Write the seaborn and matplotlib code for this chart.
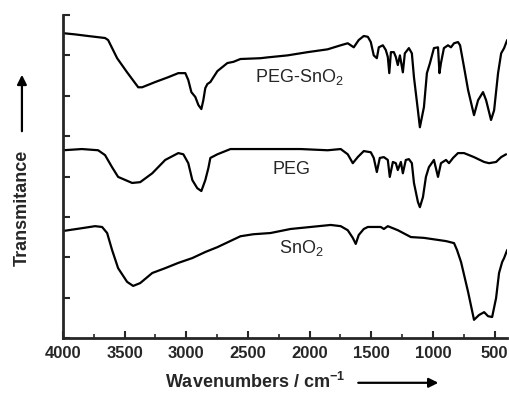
import numpy as np
import pandas as pd
import matplotlib.pyplot as plt
import seaborn as sns

sns.set_style("ticks")
plt.rcParams["font.family"] = ["Liberation Sans", "DejaVu Sans"]
plt.rcParams["mathtext.fontset"] = "custom"
plt.rcParams["mathtext.rm"] = "Liberation Sans"
plt.rcParams["mathtext.bf"] = "Liberation Sans:bold"

# PEG-SnO2 spectrum (wavenumber, transmittance a.u.)
peg_sno2_w = [4000, 3902, 3797, 3659, 3634, 3561, 3480, 3390, 3358, 3252, 3146, 3065, 3008, 2984,
              2959, 2927, 2902, 2878, 2862, 2846, 2829, 2805, 2748, 2667, 2618, 2561, 2398, 2342,
              2179, 2016, 1854, 1748, 1691, 1642, 1602, 1561, 1528, 1504, 1480, 1455, 1439, 1406,
              1382, 1366, 1354, 1341, 1317, 1301, 1285, 1268, 1244, 1228, 1195, 1171, 1154, 1122,
              1106, 1073, 1049, 1024, 992, 959, 947, 935, 911, 878, 854, 829, 797, 780, 748, 715,
              667, 634, 594, 569, 529, 504, 472, 447, 423, 398]
peg_sno2_t = [7.55, 7.52, 7.48, 7.43, 7.38, 6.93, 6.58, 6.21, 6.21, 6.34, 6.46, 6.56, 6.56, 6.39,
              6.09, 5.97, 5.77, 5.67, 5.89, 6.19, 6.29, 6.34, 6.61, 6.81, 6.84, 6.91, 6.93, 6.95,
              7.00, 7.08, 7.15, 7.25, 7.30, 7.20, 7.38, 7.48, 7.46, 7.33, 7.00, 6.93, 7.20, 7.25,
              7.13, 6.96, 6.56, 7.08, 7.08, 6.96, 6.76, 7.00, 6.58, 7.05, 7.18, 7.05, 6.46, 5.64,
              5.22, 5.72, 6.56, 6.81, 7.18, 7.20, 6.56, 6.81, 7.18, 7.25, 7.20, 7.30, 7.33, 7.25,
              6.71, 6.14, 5.52, 5.89, 6.09, 5.89, 5.40, 5.64, 6.56, 7.05, 7.18, 7.38]

# PEG spectrum
peg_w = [4000, 3846, 3715, 3659, 3602, 3553, 3439, 3374, 3276, 3171, 3065, 3024, 2984, 2951,
         2911, 2878, 2846, 2821, 2805, 2748, 2642, 2342, 2073, 1854, 1748, 1691, 1650, 1610,
         1561, 1504, 1480, 1455, 1431, 1398, 1366, 1350, 1325, 1301, 1285, 1260, 1244, 1220,
         1195, 1171, 1154, 1122, 1106, 1081, 1057, 1033, 992, 959, 935, 894, 870, 837, 797,
         748, 667, 585, 545, 488, 447, 407]
peg_t = [4.65, 4.68, 4.65, 4.53, 4.23, 3.99, 3.84, 3.86, 4.08, 4.41, 4.58, 4.55, 4.33, 3.91,
         3.71, 3.64, 3.91, 4.21, 4.46, 4.55, 4.68, 4.68, 4.68, 4.65, 4.68, 4.55, 4.33, 4.48,
         4.63, 4.60, 4.46, 4.11, 4.46, 4.48, 4.41, 3.99, 4.36, 4.33, 4.16, 4.36, 4.08, 4.41,
         4.43, 4.33, 3.84, 3.37, 3.24, 3.49, 3.99, 4.23, 4.41, 3.99, 4.33, 4.41, 4.33, 4.46, 4.58,
         4.58, 4.48, 4.36, 4.33, 4.36, 4.48, 4.55]

# SnO2 spectrum
sno2_w = [4000, 3846, 3740, 3683, 3642, 3602, 3553, 3480, 3431, 3374, 3276, 3171, 3065, 2951,
          2846, 2748, 2561, 2456, 2317, 2155, 1992, 1829, 1748, 1691, 1650, 1626, 1602, 1561,
          1528, 1423, 1398, 1366, 1285, 1179, 1073, 894, 829, 805, 772, 715, 667, 626, 585,
          553, 520, 488, 464, 439, 423, 398]
sno2_t = [2.65, 2.72, 2.77, 2.75, 2.60, 2.18, 1.73, 1.39, 1.29, 1.36, 1.61, 1.73, 1.86, 1.98,
          2.13, 2.25, 2.52, 2.57, 2.60, 2.70, 2.75, 2.80, 2.77, 2.67, 2.48, 2.33, 2.55, 2.70,
          2.75, 2.75, 2.70, 2.77, 2.67, 2.50, 2.48, 2.40, 2.35, 2.18, 1.88, 1.14, 0.45, 0.57, 0.64,
          0.54, 0.52, 0.99, 1.61, 1.88, 1.98, 2.18]

fig = plt.figure(figsize=(5.1, 4.0), dpi=100)
ax = fig.add_axes([0.1235, 0.155, 0.8705, 0.8075])

for w, t in [(peg_sno2_w, peg_sno2_t), (peg_w, peg_t), (sno2_w, sno2_t)]:
    df = pd.DataFrame({"w": w, "t": t})
    sns.lineplot(data=df, x="w", y="t", ax=ax, color="black", lw=1.6,
                 estimator=None, sort=False)

ax.set_xlim(4000, 400)
ax.set_ylim(0, 8)
ax.set_xticks(np.arange(4000, 400, -500))
ax.set_xticks(np.arange(3750, 400, -500), minor=True)
ax.set_yticks(np.arange(0, 9, 1))
ax.set_yticklabels([])
for lab in ax.get_xticklabels():
    lab.set_fontweight("bold")
ax.tick_params(axis="both", which="major", direction="in", length=5, width=1.5,
               labelsize=12, pad=6)
ax.tick_params(axis="x", which="minor", direction="in", length=3, width=1.2)
sns.despine(ax=ax)
ax.spines["left"].set_linewidth(2)
ax.spines["bottom"].set_linewidth(2)
ax.set_xlabel("")
ax.set_ylabel("")

ax.text(2440, 6.46, "PEG-SnO$_2$", fontsize=13, va="center", ha="left")
ax.text(2300, 4.18, "PEG", fontsize=13, va="center", ha="left")
ax.text(2252, 2.23, "SnO$_2$", fontsize=13, va="center", ha="left")

fig.text(0.50, 0.045, "Wavenumbers / cm$^\\mathbf{-1}$", fontsize=13, fontweight="bold",
         ha="center", va="center")
fig.text(0.043, 0.48, "Transmitance", fontsize=13, fontweight="bold",
         ha="center", va="center", rotation=90)
fig.patches.append(plt.matplotlib.patches.FancyArrowPatch(
    (0.697, 0.043), (0.865, 0.043), transform=fig.transFigure, arrowstyle="-|>",
    mutation_scale=14, color="black", lw=1.6))
fig.patches.append(plt.matplotlib.patches.FancyArrowPatch(
    (0.043, 0.665), (0.043, 0.82), transform=fig.transFigure, arrowstyle="-|>",
    mutation_scale=14, color="black", lw=1.6))

fig.savefig("out.png", dpi=100)
